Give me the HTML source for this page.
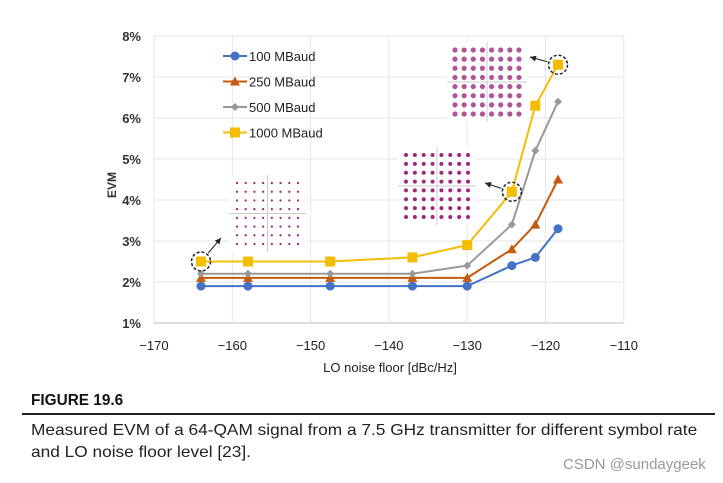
<!DOCTYPE html>
<html><head><meta charset="utf-8"><style>
body{margin:0;width:723px;height:483px;background:#fff;overflow:hidden;font-family:"Liberation Sans",sans-serif}
svg{position:absolute;left:0;top:0}
</style></head><body>
<svg width="723" height="483" id="chart"></svg>
<script>
const xTicks=[-170,-160,-150,-140,-130,-120,-110];
const yTicks=[1,2,3,4,5,6,7,8];
const xVals=[-164,-158,-147.5,-137,-130,-124.3,-121.3,-118.4];
const s100=[1.9,1.9,1.9,1.9,1.9,2.4,2.6,3.3];
const s250=[2.1,2.1,2.1,2.1,2.1,2.8,3.4,4.5];
const s500=[2.2,2.2,2.2,2.2,2.4,3.4,5.2,6.4];
const s1000=[2.5,2.5,2.5,2.6,2.9,4.2,6.3,7.3];
const seriesNames=["100 MBaud","250 MBaud","500 MBaud","1000 MBaud"];
const NS="http://www.w3.org/2000/svg";
const svg=document.getElementById('chart');
const X=v=>154+(v+170)*7.83;
const Y=v=>323-(v-1)*41;
function el(t,a,p){const e=document.createElementNS(NS,t);for(const k in a)e.setAttribute(k,a[k]);(p||svg).appendChild(e);return e;}
xTicks.forEach(t=>{const l=el('line',{x1:X(t),x2:X(t),y1:Y(8),y2:Y(1),stroke:'#e6e6e6'});

const tx=el('text',{x:X(t),y:350,'text-anchor':'middle','font-size':13,fill:'#222'});tx.textContent='\u2212'+Math.abs(t);
});
yTicks.forEach(t=>{const l=el('line',{x1:X(-170),x2:X(-110),y1:Y(t),y2:Y(t),stroke:t==1?'#bbb':'#e6e6e6'});

const tx=el('text',{x:141,y:Y(t)+5,'text-anchor':'end','font-size':13,'font-weight':'bold',fill:'#333'});tx.textContent=t+'%';
});
let t1=el('text',{x:390,y:372,'text-anchor':'middle','font-size':13,fill:'#222'});t1.textContent='LO noise floor [dBc/Hz]';

let t2=el('text',{x:0,y:0,transform:'translate(116,185) rotate(-90)','text-anchor':'middle','font-size':12,'font-weight':'bold',fill:'#333'});t2.textContent='EVM';

function inset(x0,y0,w,r,col,name){const g=el('g',{});
el('rect',{x:x0-8,y:y0-8,width:w+16,height:w+16,fill:'#fff'},g);
el('line',{x1:x0-8,x2:x0+w+8,y1:y0+w/2,y2:y0+w/2,stroke:'#ccc'},g);
el('line',{x1:x0+w/2,x2:x0+w/2,y1:y0-8,y2:y0+w+8,stroke:'#ccc'},g);
for(let i=0;i<8;i++)for(let j=0;j<8;j++)el('circle',{cx:x0+i*w/7,cy:y0+j*w/7,r:r,fill:col},g);}
inset(237,183,61,1.1,'#9b1f7c','constellation-low');
inset(406,155,62,2.0,'#a0267f','constellation-mid');
inset(455,50,64,2.6,'#b0559a','constellation-high');
const data=[s100,s250,s500,s1000];const cols=['#4472c4','#c55a11','#999999','#f5bd00'];
data.forEach((s,k)=>{const g=el('g',{});
el('polyline',{points:s.map((v,i)=>X(xVals[i])+','+Y(v)).join(' '),fill:'none',stroke:cols[k],'stroke-width':2},g);
s.forEach((v,i)=>marker(k,X(xVals[i]),Y(v),g));});
function marker(k,x,y,g){let m;
if(k==0)m=el('circle',{cx:x,cy:y,r:4.5,fill:cols[0]},g);
else if(k==1)m=el('polygon',{points:`${x},${y-5} ${x+5},${y+4} ${x-5},${y+4}`,fill:cols[1]},g);
else if(k==2)m=el('polygon',{points:`${x},${y-4} ${x+4},${y} ${x},${y+4} ${x-4},${y}`,fill:cols[2]},g);
else m=el('rect',{x:x-5,y:y-5,width:10,height:10,fill:cols[3]},g);
}
[[0,221,238],[5,485,183],[7,530,57]].forEach(([i,ax,ay])=>{const cx=X(xVals[i]),cy=Y(s1000[i]);
const c=el('circle',{cx:cx,cy:cy,r:9.5,fill:'none',stroke:'#222','stroke-width':1.5,'stroke-dasharray':'3,2'});

const dx=ax-cx,dy=ay-cy,L=Math.hypot(dx,dy),sx=cx+dx/L*11,sy=cy+dy/L*11;
el('line',{x1:sx,y1:sy,x2:ax,y2:ay,stroke:'#222'});
const ux=dx/L,uy=dy/L;el('polygon',{points:`${ax},${ay} ${ax-ux*6-uy*3},${ay-uy*6+ux*3} ${ax-ux*6+uy*3},${ay-uy*6-ux*3}`,fill:'#222'});});
seriesNames.forEach((n,k)=>{const y=56+k*25.5;const g=el('g',{});
el('line',{x1:223,x2:247,y1:y,y2:y,stroke:cols[k],'stroke-width':2},g);marker(k,235,y,g);
const t=el('text',{x:249,y:y+5,'font-size':13,fill:'#222'},g);t.textContent=n;});
</script>
<div style="position:absolute;left:31px;top:392px;font-size:16px;font-weight:bold;transform:scaleX(0.96);transform-origin:left;color:#111;white-space:nowrap">FIGURE 19.6</div>
<div style="position:absolute;left:22px;top:413px;width:693px;height:2px;background:#222"></div>
<div style="position:absolute;left:31px;top:420px;width:800px;font-size:16px;line-height:22px;color:#222;transform:scaleX(1.08);transform-origin:left;white-space:nowrap">Measured EVM of a 64-QAM signal from a 7.5 GHz transmitter for different symbol rate<br>and LO noise floor level [23].</div>
<div style="position:absolute;left:563px;top:456px;font-size:15px;color:#999;white-space:nowrap">CSDN @sundaygeek</div>
</body></html>
